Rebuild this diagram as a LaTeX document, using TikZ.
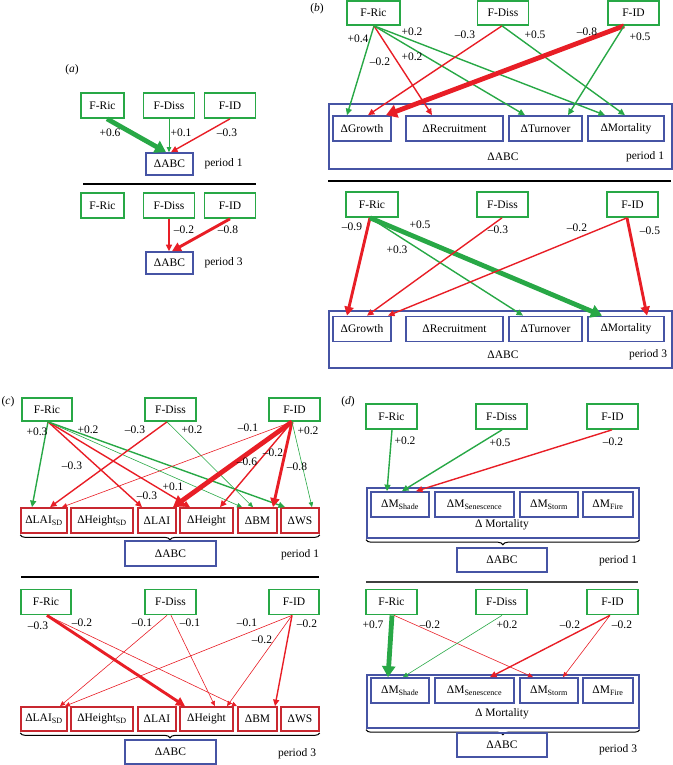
\documentclass[tikz,border=0pt]{standalone}
\usepackage{fontspec}
\setmainfont{Liberation Serif}
\usetikzlibrary{arrows.meta,decorations.pathreplacing}
\definecolor{grn}{RGB}{40,168,70}
\definecolor{rd}{RGB}{232,30,38}
\definecolor{blu}{RGB}{70,84,164}
\definecolor{dred}{RGB}{200,40,48}
\tikzset{
    gbox/.style={draw=grn, line width=1.7pt, inner sep=0pt, minimum width=51pt, minimum height=25pt},
    bbox/.style={draw=blu, line width=1.7pt, inner sep=0pt, minimum height=25pt},
    rbox/.style={draw=dred, line width=1.7pt, inner sep=0pt, minimum height=25pt},
    lab/.style={inner sep=0pt},
    gain/.style={draw=grn},
    loss/.style={draw=rd},
    w1/.style={line width=0.6pt, -{Triangle[length=5pt,width=4.5pt]}},
    w2/.style={line width=1.4pt, -{Triangle[length=6.5pt,width=6pt]}},
    w3/.style={line width=2.9pt, -{Triangle[length=9pt,width=9pt]}},
    w4/.style={line width=4.8pt, -{Triangle[length=11pt,width=13pt]}},
    brc/.style={decorate, decoration={brace, amplitude=5pt}, line width=1pt},
    sep/.style={line width=1.3pt}
}
\begin{document}
\begin{tikzpicture}[x=1pt, y=-1pt, font=\fontsize{11.5}{13}\selectfont]
\useasboundingbox (0,0) rectangle (672,765);

% (a)
\node (atag) at (72,70) {(\textit{a})};
\node[gbox, minimum width=43pt] (aric1) at (102.5,105.5) {F-Ric};
\node[gbox] (adiss1) at (169,105.5) {F-Diss};
\node[gbox] (aid1) at (230,105.5) {F-ID};
\node[bbox, minimum width=47pt, minimum height=22pt] (aabc1) at (169.5,164) {ΔABC};
\node (aper1) at (223.5,164) {period 1};
\draw[gain,w4] (aric1.south -| 107,0) -- (aabc1.north -| 166,0);
\draw[gain,w1] (adiss1.south -| 169,0) -- (aabc1.north -| 169,0);
\draw[loss,w2] (aid1.south -| 230,0) -- (aabc1.north -| 171,0);
\node[lab] (al1) at (110,133) {+0.6};
\node[lab] (al2) at (181,133) {+0.1};
\node[lab] (al3) at (227,133) {--0.3};
\draw[sep] (83,184) -- (256,184);
\node[gbox, minimum width=43pt] (aric3) at (102.5,205.5) {F-Ric};
\node[gbox] (adiss3) at (169,205.5) {F-Diss};
\node[gbox] (aid3) at (230,205.5) {F-ID};
\node[bbox, minimum width=47pt, minimum height=22pt] (aabc3) at (169.5,263) {ΔABC};
\node (aper3) at (223.5,263) {period 3};
\draw[loss,w2] (adiss3.south -| 169,0) -- (aabc3.north -| 169,0);
\draw[loss,w3] (aid3.south -| 230,0) -- (aabc3.north -| 172,0);
\node[lab] (al4) at (184,230) {--0.2};
\node[lab] (al5) at (228,230) {--0.8};

% (b)
\node (btag) at (317,9) {(\textit{b})};
\node[gbox, minimum width=53pt, minimum height=24pt] (bric1) at (373.5,13) {F-Ric};
\node[gbox, minimum height=24pt] (bdiss1) at (503,13) {F-Diss};
\node[gbox, minimum height=24pt] (bid1) at (633.5,13) {F-ID};
\node[bbox, anchor=north west, minimum width=343pt, minimum height=65pt] (babc1) at (328,103) {};
\node[bbox, minimum width=58pt] (bgro1) at (362,128.5) {ΔGrowth};
\node[bbox, minimum width=97pt] (brec1) at (454.5,128.5) {ΔRecruitment};
\node[bbox, minimum width=73pt] (btur1) at (545.5,128.5) {ΔTurnover};
\node[bbox, minimum width=76pt] (bmor1) at (626,128.5) {ΔMortality};
\node (bname1) at (503,157) {ΔABC};
\node (bper1) at (645,157) {period 1};
\draw[gain,w2] (bric1.south -| 374,0) -- (bgro1.north -| 347,0);
\draw[loss,w2] (bric1.south -| 374,0) -- (brec1.north -| 432,0);
\draw[gain,w2] (bric1.south -| 374,0) -- (btur1.north -| 525,0);
\draw[gain,w2] (bric1.south -| 374,0) -- (bmor1.north -| 605,0);
\draw[loss,w2] (bdiss1.south -| 502,0) -- (bgro1.north -| 368,0);
\draw[gain,w2] (bdiss1.south -| 502,0) -- (bmor1.north -| 625,0);
\draw[loss,w4] (bid1.south -| 624,0) -- (bgro1.north -| 386,0);
\draw[gain,w2] (bid1.south -| 624,0) -- (btur1.north -| 568,0);
\node[lab] (bl1) at (358,39) {+0.4};
\node[lab] (bl2) at (380,62) {--0.2};
\node[lab] (bl3) at (412,57) {+0.2};
\node[lab] (bl4) at (412,32) {+0.2};
\node[lab] (bl5) at (465,35) {--0.3};
\node[lab] (bl6) at (535,35) {+0.5};
\node[lab] (bl7) at (587,32) {--0.8};
\node[lab] (bl8) at (640,37) {+0.5};
\draw[sep] (328,181) -- (671,181);
\node[gbox, minimum width=52pt] (bric3) at (372,204.5) {F-Ric};
\node[gbox] (bdiss3) at (502.5,204.5) {F-Diss};
\node[gbox] (bid3) at (632.5,204.5) {F-ID};
\node[bbox, anchor=north west, minimum width=343pt, minimum height=57pt] (babc3) at (328,310) {};
\node[bbox, minimum width=58pt] (bgro3) at (362,329) {ΔGrowth};
\node[bbox, minimum width=97pt] (brec3) at (454.5,329) {ΔRecruitment};
\node[bbox, minimum width=73pt] (btur3) at (545.5,329) {ΔTurnover};
\node[bbox, minimum width=76pt] (bmor3) at (626,329) {ΔMortality};
\node (bname3) at (503,355) {ΔABC};
\node (bper3) at (648,355) {period 3};
\draw[loss,w3] (bric3.south -| 370,0) -- (bgro3.north -| 347,0);
\draw[gain,w4] (bric3.south -| 370,0) -- (bmor3.north -| 602,0);
\draw[gain,w2] (bric3.south -| 370,0) -- (btur3.north -| 523,0);
\draw[loss,w2] (bdiss3.south -| 502,0) -- (bgro3.north -| 367,0);
\draw[loss,w2] (bid3.south -| 627,0) -- (bgro3.north -| 388,0);
\draw[loss,w3] (bid3.south -| 627,0) -- (bmor3.north -| 647,0);
\node[lab] (bl9) at (352,227) {--0.9};
\node[lab] (bl10) at (420,225) {+0.5};
\node[lab] (bl11) at (397,250) {+0.3};
\node[lab] (bl12) at (498,230) {--0.3};
\node[lab] (bl13) at (577,228) {--0.2};
\node[lab] (bl14) at (650,231) {--0.5};

% (c)
\node (ctag) at (8,402) {(\textit{c})};
\node[gbox, minimum width=50pt, minimum height=23pt] (cric1) at (47,409.5) {F-Ric};
\node[gbox, minimum height=23pt] (cdiss1) at (170.5,409.5) {F-Diss};
\node[gbox, minimum height=23pt] (cid1) at (294.5,409.5) {F-ID};
\node[rbox, minimum width=46pt] (clsd1) at (44,520.5) {ΔLAI\textsubscript{SD}};
\node[rbox, minimum width=62pt] (chsd1) at (102,520.5) {ΔHeight\textsubscript{SD}};
\node[rbox, minimum width=38pt] (clai1) at (157,520.5) {ΔLAI};
\node[rbox, minimum width=53pt] (chgt1) at (206.5,520.5) {ΔHeight};
\node[rbox, minimum width=39pt] (cbm1) at (257.5,520.5) {ΔBM};
\node[rbox, minimum width=38pt] (cws1) at (300,520.5) {ΔWS};
\draw[brc] ([yshift=-1pt]cws1.south east) -- ([yshift=-1pt]clsd1.south west);
\node[bbox, minimum width=91pt] (cabc1) at (170.5,553.5) {ΔABC};
\node (cper1) at (300,555) {period 1};
\draw[gain,w2] (cric1.south -| 48,0) -- (clsd1.north -| 32,0);
\draw[loss,w2] (cric1.south -| 48,0) -- (clai1.north -| 142,0);
\draw[loss,w2] (cric1.south -| 48,0) -- (chgt1.north -| 190,0);
\draw[gain,w1] (cric1.south -| 48,0) -- (cbm1.north -| 242,0);
\draw[gain,w2] (cric1.south -| 48,0) -- (cws1.north -| 285,0);
\draw[loss,w2] (cdiss1.south -| 167,0) -- (clsd1.north -| 50,0);
\draw[gain,w1] (cdiss1.south -| 167,0) -- (cbm1.north -| 253,0);
\draw[loss,w1] (cid1.south -| 292,0) -- (clsd1.north -| 62,0);
\draw[loss,w4] (cid1.south -| 292,0) -- (clai1.north -| 173,0);
\draw[loss,w2] (cid1.south -| 292,0) -- (chgt1.north -| 220,0);
\draw[loss,w3] (cid1.south -| 292,0) -- (cbm1.north -| 273,0);
\draw[gain,w1] (cid1.south -| 292,0) -- (cws1.north -| 312,0);
\node[lab] (cl1) at (37,432) {+0.3};
\node[lab] (cl2) at (88,430) {+0.2};
\node[lab] (cl3) at (72,466) {--0.3};
\node[lab] (cl4) at (147,496) {--0.3};
\node[lab] (cl5) at (173,487) {+0.1};
\node[lab] (cl6) at (135,430) {--0.3};
\node[lab] (cl7) at (192,430) {+0.2};
\node[lab] (cl8) at (248,428) {--0.1};
\node[lab] (cl9) at (247,462) {--0.6};
\node[lab] (cl10) at (273,453) {--0.2};
\node[lab] (cl11) at (297,467) {--0.8};
\node[lab] (cl12) at (308,431) {+0.2};
\draw[sep] (21,577) -- (319,577);
\node[gbox, minimum width=50pt] (cric3) at (46,602) {F-Ric};
\node[gbox] (cdiss3) at (170.5,602) {F-Diss};
\node[gbox, minimum width=50pt] (cid3) at (294,602) {F-ID};
\node[rbox, minimum width=46pt, minimum height=24pt] (clsd3) at (44,719) {ΔLAI\textsubscript{SD}};
\node[rbox, minimum width=62pt, minimum height=24pt] (chsd3) at (102,719) {ΔHeight\textsubscript{SD}};
\node[rbox, minimum width=38pt, minimum height=24pt] (clai3) at (157,719) {ΔLAI};
\node[rbox, minimum width=53pt, minimum height=24pt] (chgt3) at (206.5,719) {ΔHeight};
\node[rbox, minimum width=39pt, minimum height=24pt] (cbm3) at (257.5,719) {ΔBM};
\node[rbox, minimum width=38pt, minimum height=24pt] (cws3) at (300,719) {ΔWS};
\draw[brc] ([yshift=-1pt]cws3.south east) -- ([yshift=-1pt]clsd3.south west);
\node[bbox, minimum width=91pt, minimum height=24pt] (cabc3) at (170.5,752) {ΔABC};
\node (cper3) at (297,754) {period 3};
\draw[loss,w3] (cric3.south -| 47,0) -- (chgt3.north -| 185,0);
\draw[loss,w1] (cric3.south -| 47,0) -- (cbm3.north -| 237,0);
\draw[loss,w1] (cdiss3.south -| 167,0) -- (clsd3.north -| 60,0);
\draw[loss,w1] (cdiss3.south -| 171,0) -- (chgt3.north -| 215,0);
\draw[loss,w1] (cid3.south -| 292,0) -- (clsd3.north -| 65,0);
\draw[loss,w1] (cid3.south -| 292,0) -- (chgt3.north -| 227,0);
\draw[loss,w2] (cid3.south -| 292,0) -- (cbm3.north -| 275,0);
\node[lab] (cl13) at (38,626) {--0.3};
\node[lab] (cl14) at (82,623) {--0.2};
\node[lab] (cl15) at (142,623) {--0.1};
\node[lab] (cl16) at (190,623) {--0.1};
\node[lab] (cl17) at (247,623) {--0.1};
\node[lab] (cl18) at (262,640) {--0.2};
\node[lab] (cl19) at (307,624) {--0.2};

% (d)
\node (dtag) at (348,402) {(\textit{d})};
\node[gbox] (dric1) at (391.5,416.5) {F-Ric};
\node[gbox] (ddiss1) at (501.5,416.5) {F-Diss};
\node[gbox] (did1) at (612.5,416.5) {F-ID};
\node[bbox, anchor=north west, minimum width=272pt, minimum height=50pt] (dmor1) at (366,487) {};
\node[bbox, minimum width=58pt] (dsha1) at (400,504.5) {ΔM\textsubscript{Shade}};
\node[bbox, minimum width=79pt] (dsen1) at (474.5,504.5) {ΔM\textsubscript{Senescence}};
\node[bbox, minimum width=58pt] (dsto1) at (549,504.5) {ΔM\textsubscript{Storm}};
\node[bbox, minimum width=50pt] (dfir1) at (608,504.5) {ΔM\textsubscript{Fire}};
\node (dname1) at (502,525) {Δ Mortality};
\draw[brc] ([yshift=-1pt]dmor1.south east) -- ([yshift=-1pt]dmor1.south west);
\node[bbox, minimum width=90pt, minimum height=24pt] (dabc1) at (502,560) {ΔABC};
\node (dper1) at (618,561) {period 1};
\draw[gain,w2] (dric1.south -| 392,0) -- (dsha1.north -| 387,0);
\draw[gain,w2] (ddiss1.south -| 502,0) -- (dsha1.north -| 402,0);
\draw[loss,w2] (did1.south -| 612,0) -- (dsha1.north -| 416,0);
\node[lab] (dl1) at (405,441) {+0.2};
\node[lab] (dl2) at (500,443) {+0.5};
\node[lab] (dl3) at (613,442) {--0.2};
\draw[sep, draw=black!75] (366,582) -- (638,582);
\node[gbox] (dric3) at (391.5,602) {F-Ric};
\node[gbox] (ddiss3) at (501.5,602) {F-Diss};
\node[gbox] (did3) at (612.5,602) {F-ID};
\node[bbox, anchor=north west, minimum width=272pt, minimum height=53pt] (dmor3) at (366,674) {};
\node[bbox, minimum width=58pt] (dsha3) at (400,690.5) {ΔM\textsubscript{Shade}};
\node[bbox, minimum width=79pt] (dsen3) at (474.5,690.5) {ΔM\textsubscript{Senescence}};
\node[bbox, minimum width=58pt] (dsto3) at (549,690.5) {ΔM\textsubscript{Storm}};
\node[bbox, minimum width=50pt] (dfir3) at (608,690.5) {ΔM\textsubscript{Fire}};
\node (dname3) at (502,714) {Δ Mortality};
\draw[brc] ([yshift=-1pt]dmor3.south east) -- ([yshift=-1pt]dmor3.south west);
\node[bbox, minimum width=90pt, minimum height=24pt] (dabc3) at (502,745) {ΔABC};
\node (dper3) at (618,750) {period 3};
\draw[gain,w4] (dric3.south -| 392,0) -- (dsha3.north -| 388,0);
\draw[loss,w1] (dric3.south -| 394,0) -- (dsto3.north -| 533,0);
\draw[gain,w1] (ddiss3.south -| 502,0) -- (dsha3.north -| 403,0);
\draw[loss,w2] (did3.south -| 610,0) -- (dsen3.north -| 490,0);
\draw[loss,w1] (did3.south -| 610,0) -- (dsto3.north -| 563,0);
\node[lab] (dl4) at (373,625) {+0.7};
\node[lab] (dl5) at (430,625) {--0.2};
\node[lab] (dl6) at (507,625) {+0.2};
\node[lab] (dl7) at (570,625) {--0.2};
\node[lab] (dl8) at (622,625) {--0.2};
\end{tikzpicture}
\end{document}
